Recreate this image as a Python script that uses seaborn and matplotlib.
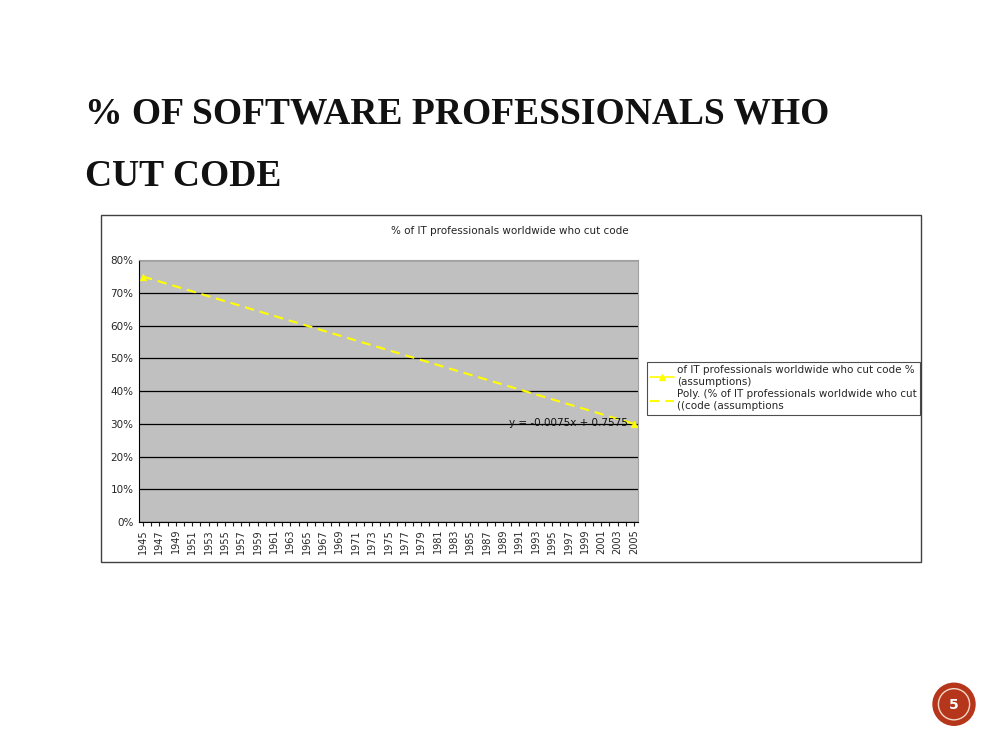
import numpy as np
import pandas as pd
import matplotlib
matplotlib.use("Agg")
import matplotlib.pyplot as plt
import matplotlib.patches as mpatches
from matplotlib.lines import Line2D
from matplotlib.ticker import FixedLocator, PercentFormatter
import seaborn as sns

# ------------------------------------------------------------------
# Data
# ------------------------------------------------------------------
years = [1945, 2005]
share = [0.75, 0.30]
tick_years = list(range(1945, 2006, 2))
y_ticks = [0.0, 0.1, 0.2, 0.3, 0.4, 0.5, 0.6, 0.7, 0.8]

title_lines = ["% OF SOFTWARE PROFESSIONALS WHO", "CUT CODE"]
chart_title = "% of IT professionals worldwide who cut code"
series_label = "of IT professionals worldwide who cut code %\n(assumptions)"
trend_label = "Poly. (% of IT professionals worldwide who cut\n((code (assumptions"
page_no = "5"

YELLOW = "#FFFF00"
PLOT_BG = "#C0C0C0"
DASH = (0, (4.5, 2.8))

sns.set_style("white")
plt.rcParams["font.family"] = ["DejaVu Sans"]

df = pd.DataFrame({"year": years, "share": share})

fig = plt.figure(figsize=(10, 7.5), dpi=100)
fig.patch.set_facecolor("white")

# slide title, two lines placed on their baselines
for i, line in enumerate(title_lines):
    fig.text(0.085, 1 - (124 + 62 * i) / 750, line, ha="left", va="baseline",
             fontsize=27, family="Liberation Serif", fontweight="bold", color="#111111")

# chart frame (behind the axes)
fig.add_artist(mpatches.Rectangle((0.101, 0.251), 0.820, 0.462, transform=fig.transFigure,
                                  facecolor="white", edgecolor="#404040", lw=1.0, zorder=-1))
fig.text(0.510, 0.692, chart_title, ha="center", va="center", fontsize=7.5, color="#222222")

ax = fig.add_axes([0.139, 0.304, 0.499, 0.349])
ax.set_facecolor(PLOT_BG)

# series: only the two end points carry values
sns.scatterplot(data=df, x="year", y="share", ax=ax, color=YELLOW, marker="^",
                s=22, edgecolor=YELLOW, linewidth=0.5, legend=False, zorder=3)

# linear trend, Excel style: x counted 1..n over the category axis
x_idx = np.array(years) - years[0] + 1
slope, intercept = np.polyfit(x_idx, share, 1)
sns.regplot(data=df, x="year", y="share", ax=ax, scatter=False, ci=None, truncate=True,
            line_kws={"color": YELLOW, "ls": DASH, "lw": 1.5, "zorder": 4})
ax.text(2004.3, 0.3015, f"y = {slope:.4f}x + {intercept:.4f}", ha="right", va="center",
        fontsize=7.5, color="#111111", zorder=5)

ax.set_xlim(1944.5, 2005.5)
ax.set_ylim(0, 0.8)
ax.yaxis.set_major_locator(FixedLocator(y_ticks))
ax.yaxis.set_major_formatter(PercentFormatter(1.0, decimals=0))
ax.set_xticks(tick_years)
ax.set_xticklabels([str(y) for y in tick_years], rotation=90, fontsize=7)
ax.xaxis.set_minor_locator(FixedLocator(range(1945, 2006)))
ax.tick_params(axis="y", labelsize=7.5, length=0, pad=4)
ax.tick_params(axis="x", which="both", direction="out", length=3, width=0.8,
               color="#222222", bottom=True, pad=2)
ax.grid(axis="y", color="black", lw=0.9)
ax.set_axisbelow(True)
ax.set_xlabel("")
ax.set_ylabel("")
for side in ["top", "right"]:
    ax.spines[side].set_color("#A0A0A0")
    ax.spines[side].set_linewidth(0.8)
ax.spines["left"].set_color("black")
ax.spines["bottom"].set_color("black")

handles = [
    Line2D([], [], color=YELLOW, marker="^", markersize=4, lw=1.2),
    Line2D([], [], color=YELLOW, ls=DASH, lw=1.5),
]
leg = fig.legend(handles, [series_label, trend_label], loc="upper left",
                 bbox_to_anchor=(0.647, 0.517), borderaxespad=0, fontsize=7.5,
                 frameon=True, fancybox=False, edgecolor="#222222", borderpad=0.3,
                 handlelength=2.3, handletextpad=0.3, labelspacing=0.2)
leg.get_frame().set_linewidth(0.8)
for t in leg.get_texts():
    t.set_linespacing(1.25)

# page number badge
badge = fig.add_axes([0.924, 0.021, 0.06, 0.08])
badge.set_xlim(-1, 1)
badge.set_ylim(-1, 1)
badge.set_aspect("equal")
badge.axis("off")
badge.add_patch(mpatches.Circle((0, 0), 0.70, color="#B5361A"))
badge.add_patch(mpatches.Circle((0, 0), 0.52, fill=False, edgecolor="#F3D8C8", lw=1.0))
badge.text(0, -0.02, page_no, ha="center", va="center", color="white",
           fontsize=10, fontweight="bold")

fig.savefig("out.png", dpi=100, facecolor="white")
